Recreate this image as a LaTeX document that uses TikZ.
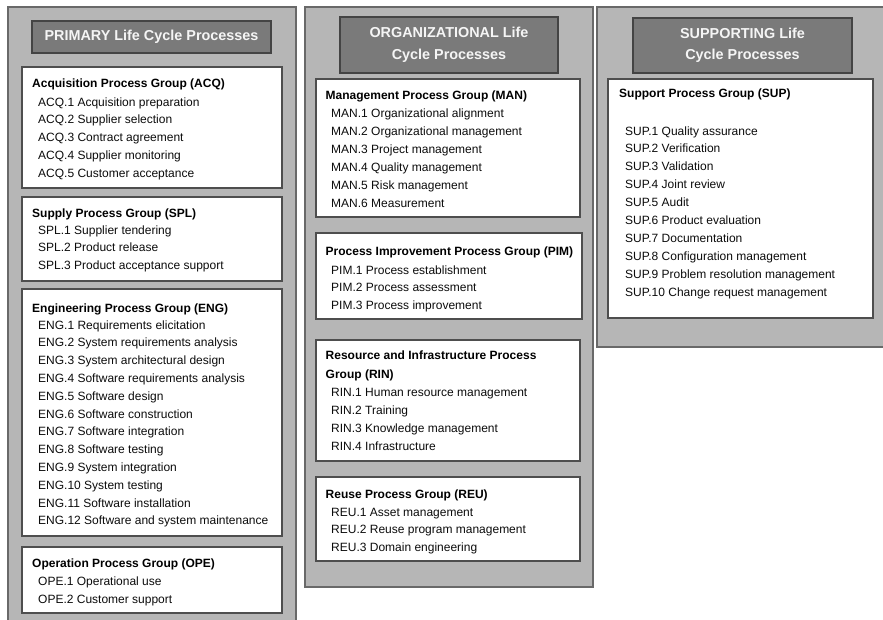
\documentclass[tikz,border=0pt]{standalone}
\usepackage{fontspec}
\setmainfont{Liberation Sans}
\definecolor{panelfill}{RGB}{182,182,182}
\definecolor{panelline}{RGB}{105,105,105}
\definecolor{titlefill}{RGB}{122,122,122}
\definecolor{titleline}{RGB}{68,68,68}
\definecolor{boxline}{RGB}{78,78,78}
\definecolor{itemtext}{RGB}{12,12,12}
\definecolor{titletext}{RGB}{245,245,245}
\tikzset{
  panel/.style={draw=panelline, fill=panelfill, line width=1.2pt, rectangle, inner sep=0pt, outer sep=0pt, anchor=north west},
  titlebox/.style={draw=titleline, fill=titlefill, line width=1.3pt, rectangle, inner sep=0pt, outer sep=0pt, anchor=north west},
  titletxt/.style={text=titletext, font=\fontsize{14.4}{21.5}\selectfont\bfseries, align=center, inner sep=0pt},
  groupbox/.style={draw=boxline, fill=white, line width=1.3pt, rectangle, inner sep=0pt, outer sep=0pt, anchor=north west},
  grouphead/.style={text=black, font=\fontsize{12}{14}\selectfont\bfseries, anchor=base west, inner sep=0pt},
  item/.style={text=itemtext, font=\fontsize{12}{14}\selectfont, anchor=base west, inner sep=0pt},
}
\begin{document}
\begin{tikzpicture}[x=1pt, y=-1pt]
\useasboundingbox (0,0) rectangle (883,619);
\clip (0,0) rectangle (883,619);

% ---------- PRIMARY column ----------
\node[panel, minimum width=288pt, minimum height=620pt] (prim) at (8,7) {};
\node[titlebox, minimum width=239pt, minimum height=32pt] (primT) at (32,21) {};
\node[titletxt] (primTt) at (primT.center) {PRIMARY Life Cycle Processes};

\node[groupbox, minimum width=260pt, minimum height=121pt] (acq) at (22,67) {};
\node[grouphead] (acqH) at (32,87) {Acquisition Process Group (ACQ)};
\foreach \t [count=\i] in {ACQ.1 Acquisition preparation, ACQ.2 Supplier selection,
  ACQ.3 Contract agreement, ACQ.4 Supplier monitoring, ACQ.5 Customer acceptance}
  \node[item] (acq\i) at (38,{106+(\i-1)*17.75}) {\t};

\node[groupbox, minimum width=260pt, minimum height=84pt] (spl) at (22,197) {};
\node[grouphead] (splH) at (32,217) {Supply Process Group (SPL)};
\foreach \t [count=\i] in {SPL.1 Supplier tendering, SPL.2 Product release,
  SPL.3 Product acceptance support}
  \node[item] (spl\i) at (38,{234+(\i-1)*17.9}) {\t};

\node[groupbox, minimum width=260pt, minimum height=247pt] (eng) at (22,289) {};
\node[grouphead] (engH) at (32,312) {Engineering Process Group (ENG)};
\foreach \t [count=\i] in {ENG.1 Requirements elicitation, ENG.2 System requirements analysis,
  ENG.3 System architectural design, ENG.4 Software requirements analysis,
  ENG.5 Software design, ENG.6 Software construction, ENG.7 Software integration,
  ENG.8 Software testing, ENG.9 System integration, ENG.10 System testing,
  ENG.11 Software installation, ENG.12 Software and system maintenance}
  \node[item] (eng\i) at (38,{329+(\i-1)*17.8}) {\t};

\node[groupbox, minimum width=260pt, minimum height=66pt] (ope) at (22,547) {};
\node[grouphead] (opeH) at (32,567) {Operation Process Group (OPE)};
\foreach \t [count=\i] in {OPE.1 Operational use, OPE.2 Customer support}
  \node[item] (ope\i) at (38,{585+(\i-1)*18}) {\t};

% ---------- ORGANIZATIONAL column ----------
\node[panel, minimum width=288pt, minimum height=580pt] (org) at (305,7) {};
\node[titlebox, minimum width=218pt, minimum height=56pt] (orgT) at (340,17) {};
\node[titletxt] (orgTt) at (orgT.center) {ORGANIZATIONAL Life\\Cycle Processes};

\node[groupbox, minimum width=264pt, minimum height=138pt] (man) at (316,79) {};
\node[grouphead] (manH) at (325.5,99) {Management Process Group (MAN)};
\foreach \t [count=\i] in {MAN.1 Organizational alignment, MAN.2 Organizational management,
  MAN.3 Project management, MAN.4 Quality management, MAN.5 Risk management,
  MAN.6 Measurement}
  \node[item] (man\i) at (331,{117+(\i-1)*18}) {\t};

\node[groupbox, minimum width=266pt, minimum height=86pt] (pim) at (316,233) {};
\node[grouphead] (pimH) at (325.5,255) {Process Improvement Process Group (PIM)};
\foreach \t [count=\i] in {PIM.1 Process establishment, PIM.2 Process assessment,
  PIM.3 Process improvement}
  \node[item] (pim\i) at (331,{274+(\i-1)*17.5}) {\t};

\node[groupbox, minimum width=264pt, minimum height=121pt] (rin) at (316,340) {};
\node[grouphead] (rinH1) at (325.5,359) {Resource and Infrastructure Process};
\node[grouphead] (rinH2) at (325.5,378) {Group (RIN)};
\foreach \t [count=\i] in {RIN.1 Human resource management, RIN.2 Training,
  RIN.3 Knowledge management, RIN.4 Infrastructure}
  \node[item] (rin\i) at (331,{396+(\i-1)*18}) {\t};

\node[groupbox, minimum width=264pt, minimum height=84pt] (reu) at (316,477) {};
\node[grouphead] (reuH) at (325.5,498) {Reuse Process Group (REU)};
\foreach \t [count=\i] in {REU.1 Asset management, REU.2 Reuse program management,
  REU.3 Domain engineering}
  \node[item] (reu\i) at (331,{516+(\i-1)*17.5}) {\t};

% ---------- SUPPORTING column ----------
\node[panel, minimum width=290pt, minimum height=340pt] (sup) at (597,7) {};
\node[titlebox, minimum width=219pt, minimum height=55pt] (supT) at (633,18) {};
\node[titletxt] (supTt) at (supT.center) {SUPPORTING Life\\Cycle Processes};

\node[groupbox, minimum width=265pt, minimum height=239pt] (supB) at (608,79) {};
\node[grouphead] (supH) at (619,97) {Support Process Group (SUP)};
\foreach \t [count=\i] in {SUP.1 Quality assurance, SUP.2 Verification, SUP.3 Validation,
  SUP.4 Joint review, SUP.5 Audit, SUP.6 Product evaluation, SUP.7 Documentation,
  SUP.8 Configuration management, SUP.9 Problem resolution management,
  SUP.10 Change request management}
  \node[item] (sup\i) at (625,{135+(\i-1)*17.9}) {\t};
\end{tikzpicture}
\end{document}
